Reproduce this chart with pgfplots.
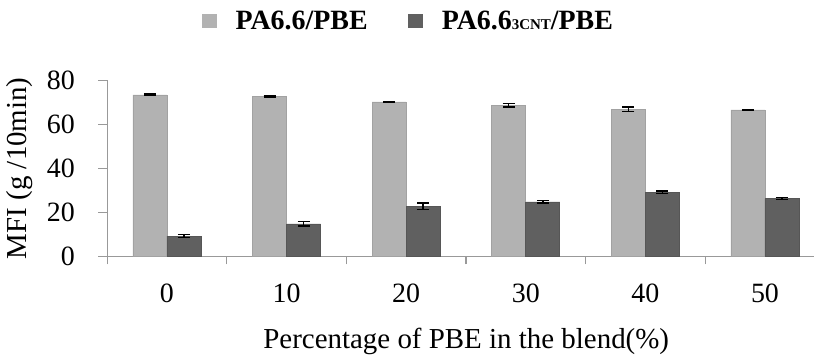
\documentclass[border=0pt]{standalone}
\usepackage{pgfplots}
\pgfplotsset{compat=1.18}
\usepackage{fontspec}
\setmainfont{Liberation Serif}
\definecolor{lightbar}{HTML}{B2B2B2}
\definecolor{darkbar}{HTML}{606060}
\definecolor{axgray}{HTML}{999999}
\begin{document}
\begin{tikzpicture}
\useasboundingbox (-107bp,-98bp) rectangle (706bp,256bp);
\begin{axis}[
  scale only axis, width=706bp, height=176bp,
  ymin=0, ymax=80, ytick={0,20,...,80},
  xmin=-0.5, xmax=5.41,
  xtick={0,...,5}, xticklabels={0,10,20,30,40,50},
  minor xtick={-0.5,0.5,...,4.5},
  major x tick style={draw=none},
  minor tick length=8bp, major tick length=9bp,
  tick align=outside,
  axis x line*=bottom, axis y line*=left,
  axis line style={axgray, line width=1.2bp},
  every tick/.style={axgray, line width=1.2bp},
  /pgf/number format/assume math mode=true,
  yticklabel={\pgfmathprintnumber{\tick}\hspace*{23bp}},
  yticklabel style={font=\fontsize{28}{28}\selectfont, anchor=east, inner sep=0pt},
  xticklabel style={font=\fontsize{28}{28}\selectfont, anchor=center, inner sep=0pt, yshift=-28bp},
  xlabel={Percentage of PBE in the blend(\%)},
  xlabel style={font=\fontsize{29}{29}\selectfont, at={(axis description cs:0.508,0)}, anchor=center, yshift=-85bp},
  ylabel={MFI (g /10min)},
  ylabel style={font=\fontsize{29}{29}\selectfont, at={(axis description cs:-0.124,0.5)}, anchor=center},
  ybar=0pt, bar width=34bp,
  legend style={at={(0.426,1.335)}, anchor=center, draw=none, fill=none,
    font=\bfseries\fontsize{28}{28}\selectfont, legend columns=2,
    /tikz/every even column/.append style={column sep=38bp}},
  legend image code/.code={\fill[#1, draw=none] (0bp,-7bp) rectangle (15bp,7bp);
    \path[draw=none, fill=none] (0bp,0bp) -- (32bp,0bp);},
  error bars/error bar style={black, line width=1.5bp},
  error bars/error mark options={rotate=90, mark size=6bp, line width=1.5bp, black},
]
\addplot[fill=lightbar, draw=lightbar!85!black!90, line width=0.6bp,
  error bars/.cd, y dir=both, y explicit]
  coordinates {(0,73.3) +- (0,0.3) (1,72.7) +- (0,0.3) (2,70.1) +- (0,0.3)
               (3,68.6) +- (0,0.8) (4,66.8) +- (0,1.1) (5,66.5) +- (0,0.2)};
\addlegendentry{PA6.6/PBE}
\addplot[fill=darkbar, draw=darkbar!90!black, line width=0.6bp,
  error bars/.cd, y dir=both, y explicit]
  coordinates {(0,9.2) +- (0,0.6) (1,14.7) +- (0,1.0) (2,22.7) +- (0,1.5)
               (3,24.7) +- (0,0.6) (4,29.1) +- (0,0.5) (5,26.2) +- (0,0.4)};
\addlegendentry{PA6.6{\fontsize{15}{15}\selectfont 3CNT}/PBE}
\end{axis}
\end{tikzpicture}
\end{document}
